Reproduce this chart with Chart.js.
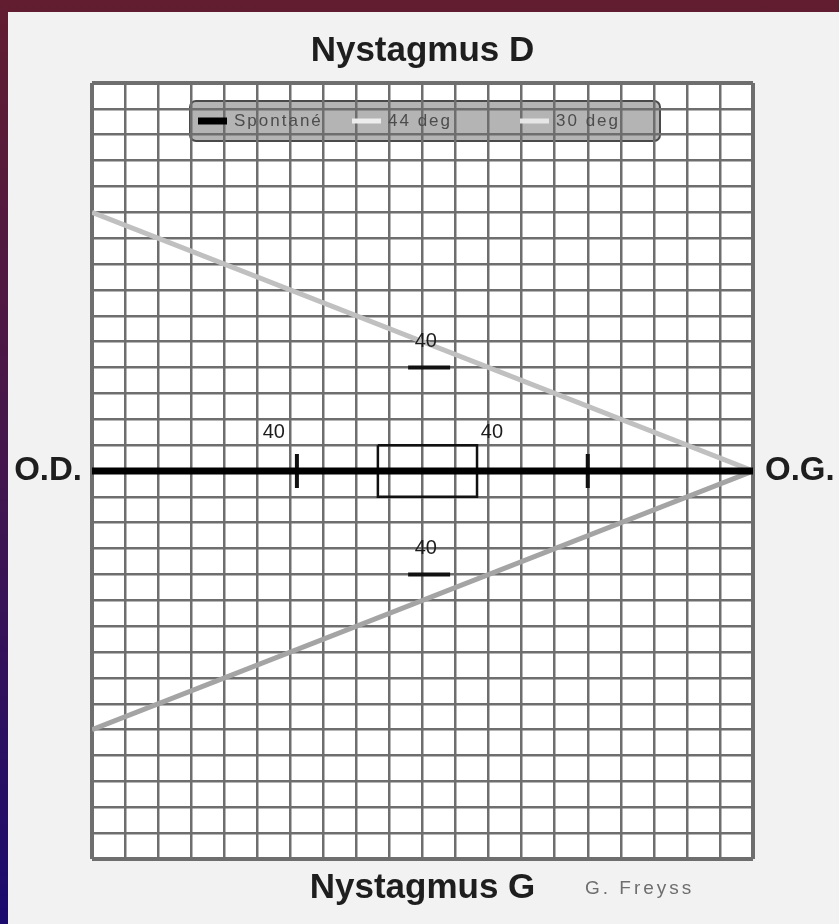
<!DOCTYPE html>
<html>
<head>
<meta charset="utf-8">
<title>Nystagmus</title>
<script src="https://cdn.jsdelivr.net/npm/chart.js@4.4.1/dist/chart.umd.min.js"></script>
<style>
  html, body { margin: 0; padding: 0; }
  body {
    width: 839px;
    height: 924px;
    overflow: hidden;
    background: linear-gradient(to bottom, #621d30 0%, #44164d 50%, #1b0b6e 100%);
  }
  #panel {
    position: absolute;
    left: 8px;
    top: 12px;
    width: 831px;
    height: 912px;
    background: #f2f2f2;
  }
  canvas { display: block; }
</style>
</head>
<body>
<div id="panel"><canvas id="butterfly" width="831" height="912"></canvas></div>
<script>
// Axis ranges (one grid cell = 10 on x, 2 on y)
const xRange = [-100, 100];
const yRange = [-30, 30];
const xStep = 10;
const yStep = 2;

// Series
const seriesNames = ['Spontané', '44 deg', '30 deg'];
const spontX = [-100, 100];
const spontY = [0, 0];
const warmX = [-100, 100];
const warmY = [20, 0];
const coldX = [-100, 100];
const coldY = [-20, 0];

// Normal zone box
const boxX = [-13.5, 16.5, 16.5, -13.5, -13.5];
const boxY = [2, 2, -2, -2, 2];

// Marks across the lines
const vMarkX = [-38, 50];
const vMarkY = [0, 0];
const hMarkX = [2, 2];
const hMarkY = [8, -8];

// Value labels
const labelText = ['40', '40', '40', '40'];
const labelX = [1, 1, -45, 21];
const labelY = [10, -6, 3, 3];

const fontFamily = "'Liberation Sans', Arial, Helvetica, sans-serif";

// legend row: offsets from the plot's left edge, sample colours
const legendBox = { left: 98, right: 568, top: 18, bottom: 58 };
const legendItemX = [106, 260, 428];
const legendSample = ['#000000', '#ededed', '#e6e6e6'];

function pts(xs, ys) {
    return xs.map((x, i) => ({ x: x, y: ys[i] }));
}

const paperPlugin = {
    id: 'paper',
    beforeDraw(chart) {
        const { ctx, chartArea: a } = chart;
        ctx.save();
        ctx.fillStyle = '#ffffff';
        ctx.fillRect(a.left, a.top, a.right - a.left, a.bottom - a.top);

        // grey box behind the legend row, grid shows through it
        ctx.fillStyle = '#b4b4b4';
        ctx.strokeStyle = '#4a4a4a';
        ctx.lineWidth = 2;
        ctx.beginPath();
        ctx.roundRect(a.left + legendBox.left, a.top + legendBox.top,
            legendBox.right - legendBox.left, legendBox.bottom - legendBox.top, 6);
        ctx.fill();
        ctx.stroke();
        ctx.restore();
    },
    afterDatasetsDraw(chart) {
        const { ctx, chartArea: a, scales } = chart;
        const xs = scales.x;
        const ys = scales.y;
        ctx.save();

        // legend samples and names
        const rowY = a.top + (legendBox.top + legendBox.bottom) / 2;
        ctx.font = '17px ' + fontFamily;
        ctx.letterSpacing = '2px';
        ctx.textAlign = 'left';
        ctx.textBaseline = 'middle';
        seriesNames.forEach((name, i) => {
            const x0 = a.left + legendItemX[i];
            ctx.strokeStyle = legendSample[i];
            ctx.lineWidth = chart.data.datasets[i].borderWidth;
            ctx.beginPath();
            ctx.moveTo(x0, rowY);
            ctx.lineTo(x0 + 29, rowY);
            ctx.stroke();
            ctx.fillStyle = '#4c4c4c';
            ctx.fillText(name, x0 + 36, rowY);
        });
        ctx.letterSpacing = '0px';

        // "40" value labels
        ctx.fillStyle = '#1c1c1c';
        ctx.font = '20px ' + fontFamily;
        ctx.textAlign = 'center';
        labelText.forEach((t, i) => {
            ctx.fillText(t, xs.getPixelForValue(labelX[i]), ys.getPixelForValue(labelY[i]));
        });

        // side labels
        const midY = ys.getPixelForValue(0);
        ctx.fillStyle = '#1e1e1e';
        ctx.font = 'bold 33px ' + fontFamily;
        ctx.textAlign = 'right';
        ctx.fillText('O.D.', a.left - 10, midY);
        ctx.textAlign = 'left';
        ctx.fillText('O.G.', a.right + 12, midY);

        // author credit
        ctx.fillStyle = '#6e6e6e';
        ctx.font = '19px ' + fontFamily;
        ctx.letterSpacing = '3px';
        ctx.fillText('G. Freyss', a.right - 168, a.bottom + 30);
        ctx.restore();
    }
};

const edgeWidth = (c, min, max) =>
    (c.tick && (c.tick.value === min || c.tick.value === max)) ? 4 : 2.5;

new Chart(document.getElementById('butterfly'), {
    type: 'line',
    data: {
        datasets: [
            {
                label: seriesNames[0],
                data: pts(spontX, spontY),
                borderColor: '#000000',
                borderWidth: 7,
                pointRadius: 0
            },
            {
                label: seriesNames[1],
                data: pts(warmX, warmY),
                borderColor: '#c0c0c0',
                borderWidth: 5,
                pointRadius: 0
            },
            {
                label: seriesNames[2],
                data: pts(coldX, coldY),
                borderColor: '#a4a4a4',
                borderWidth: 5,
                pointRadius: 0
            },
            {
                label: 'box',
                data: pts(boxX, boxY),
                borderColor: '#111111',
                borderWidth: 2.5,
                pointRadius: 0
            },
            {
                label: 'vmarks',
                data: pts(vMarkX, vMarkY),
                showLine: false,
                pointStyle: 'line',
                rotation: 90,
                pointRadius: 17,
                borderColor: '#111111',
                borderWidth: 4
            },
            {
                label: 'hmarks',
                data: pts(hMarkX, hMarkY),
                showLine: false,
                pointStyle: 'line',
                rotation: 0,
                pointRadius: 21,
                borderColor: '#111111',
                borderWidth: 4
            }
        ]
    },
    options: {
        responsive: false,
        animation: false,
        devicePixelRatio: 1,
        layout: {
            padding: { left: 84, right: 86, top: 10, bottom: 10 }
        },
        scales: {
            x: {
                type: 'linear',
                min: xRange[0],
                max: xRange[1],
                ticks: { display: false, stepSize: xStep },
                grid: {
                    color: '#6e6e6e',
                    lineWidth: c => edgeWidth(c, xRange[0], xRange[1]),
                    drawTicks: false
                },
                border: { display: false }
            },
            y: {
                type: 'linear',
                min: yRange[0],
                max: yRange[1],
                ticks: { display: false, stepSize: yStep },
                grid: {
                    color: '#6e6e6e',
                    lineWidth: c => edgeWidth(c, yRange[0], yRange[1]),
                    drawTicks: false
                },
                border: { display: false }
            }
        },
        plugins: {
            title: {
                display: true,
                text: 'Nystagmus D',
                color: '#1e1e1e',
                font: { family: fontFamily, size: 35, weight: 'bold' },
                padding: { top: 8, bottom: 11 }
            },
            subtitle: {
                display: true,
                position: 'bottom',
                text: 'Nystagmus G',
                color: '#1e1e1e',
                font: { family: fontFamily, size: 35, weight: 'bold' },
                padding: { top: 8, bottom: 5 }
            },
            legend: { display: false },
            tooltip: { enabled: false }
        }
    },
    plugins: [paperPlugin]
});
</script>
</body>
</html>
